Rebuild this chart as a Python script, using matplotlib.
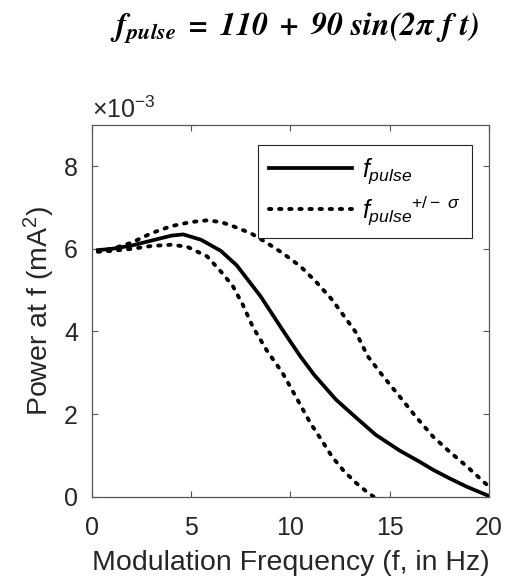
import matplotlib
matplotlib.use("Agg")
import matplotlib.pyplot as plt

plt.rcParams["font.family"] = "Liberation Sans"
plt.rcParams["mathtext.fontset"] = "custom"
plt.rcParams["mathtext.rm"] = "Liberation Sans"
plt.rcParams["mathtext.it"] = "Liberation Sans:italic"

# power spectrum values, in units of 1e-3 mA^2
freq_mean = [0.3, 1.0, 2.0, 3.0, 4.0, 4.6, 5.5, 6.5, 7.3, 8.5, 9.7, 10.5, 11.2, 12.3, 13.3, 14.3, 15.5, 16.5, 17.2, 18.0, 18.9, 20.0]
power_mean = [5.97, 6.0, 6.08, 6.2, 6.32, 6.35, 6.22, 5.95, 5.6, 4.85, 3.97, 3.4, 2.95, 2.35, 1.92, 1.5, 1.12, 0.85, 0.65, 0.45, 0.24, 0.02]

freq_upper = [0.3, 1.0, 2.0, 3.0, 4.0, 5.0, 5.8, 6.5, 7.1, 8.0, 8.8, 9.6, 10.5, 11.3, 12.1, 13.3, 13.9, 14.7, 15.5, 16.3, 17.2, 18.0, 18.9, 19.9]
power_upper = [5.95, 6.0, 6.15, 6.38, 6.55, 6.65, 6.69, 6.65, 6.55, 6.38, 6.15, 5.9, 5.58, 5.2, 4.77, 3.98, 3.4, 2.9, 2.43, 1.95, 1.45, 1.1, 0.73, 0.29]

freq_lower = [0.3, 1.0, 2.0, 3.0, 4.0, 4.8, 5.8, 6.5, 7.1, 7.6, 8.1, 8.8, 9.6, 10.3, 11.0, 11.6, 12.1, 12.7, 13.3, 13.8, 14.2]
power_lower = [5.93, 5.95, 6.0, 6.07, 6.1, 6.05, 5.82, 5.45, 5.1, 4.65, 4.12, 3.55, 3.0, 2.4, 1.79, 1.35, 0.97, 0.62, 0.34, 0.14, 0.0]

x_ticks = [0, 5, 10, 15, 20]
y_ticks = [0, 2, 4, 6, 8]

fig = plt.figure(figsize=(5.05, 5.81), dpi=100)
ax = fig.add_axes([0.182, 0.145, 0.786, 0.64])

ax.plot(freq_mean, power_mean, color="black", lw=2.7, label=r"$f_{pulse}$")
ax.plot(freq_upper, power_upper, color="black", lw=2.8, ls=(0, (0.6, 2.0)),
        dash_capstyle="round", label=r"$f_{pulse}$$^{+/-\ \sigma}$")
ax.plot(freq_lower, power_lower, color="black", lw=2.8, ls=(0, (0.6, 2.0)),
        dash_capstyle="round")

ax.set_xlim(0, 20)
ax.set_ylim(0, 9)
ax.set_xticks(x_ticks)
ax.set_yticks(y_ticks)
ax.tick_params(direction="in", top=True, right=True, length=4, width=0.8,
               labelsize=18, colors="#555555", labelcolor="#262626")
ax.tick_params(axis="x", pad=14)
ax.tick_params(axis="y", pad=10)
for sp in ax.spines.values():
    sp.set_color("#555555")
    sp.set_linewidth(0.9)

ax.set_xlabel("Modulation Frequency (f, in Hz)", fontsize=20.5, color="#262626", labelpad=7)
ax.set_ylabel("Power at f (mA$^2$)", fontsize=20.5, color="#262626", labelpad=5)
ax.text(0.0, 1.004, r"$\times$10$^{-3}$", transform=ax.transAxes, fontsize=18,
        color="#262626", ha="left", va="bottom")

leg = ax.legend(loc="upper right", bbox_to_anchor=(0.957, 0.947), fontsize=18,
                handlelength=3.3, handletextpad=0.4, borderaxespad=0, framealpha=1,
                fancybox=False, edgecolor="#262626", labelspacing=0.3, borderpad=0.45)
leg.get_frame().set_linewidth(0.8)

fig.text(0.584, 0.953, r"$\mathbfit{f_{pulse}}$$\mathbfit{\ =\ 110\ +\ 90\ sin(2\pi\ f\ t)}$",
         fontsize=23, ha="center", va="center", math_fontfamily="stix")

fig.savefig("out.png", dpi=100)
